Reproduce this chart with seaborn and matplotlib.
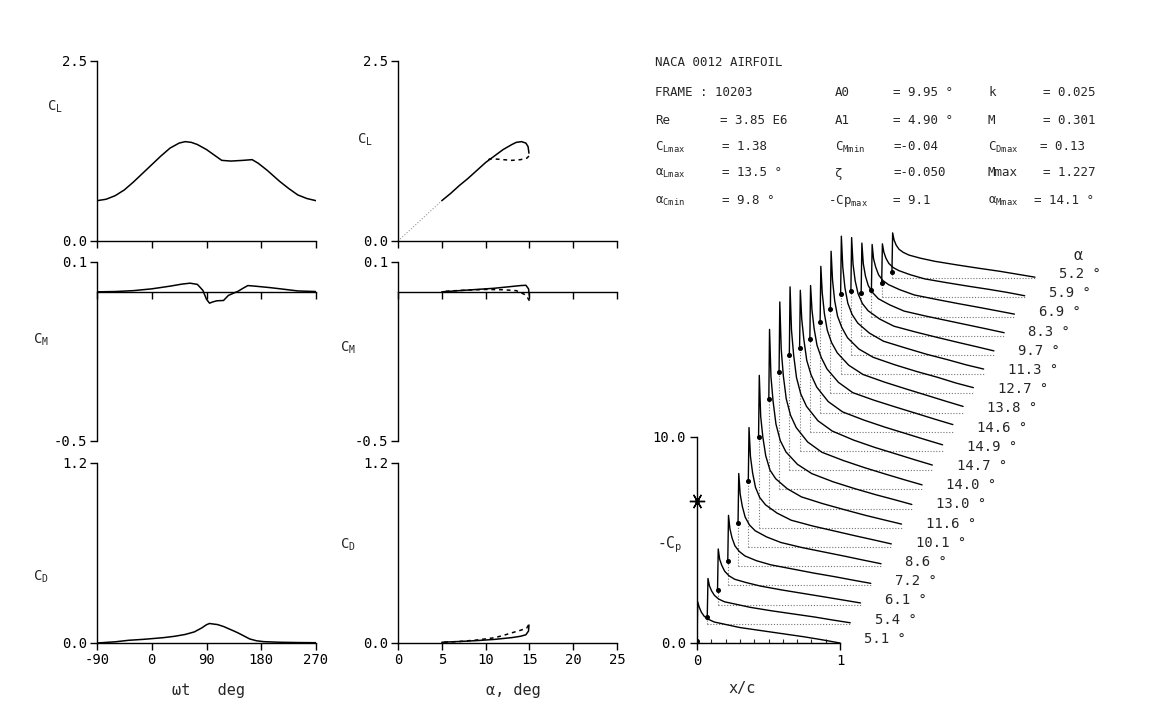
import numpy as np
import pandas as pd
import matplotlib
matplotlib.use("Agg")
import matplotlib.pyplot as plt
import seaborn as sns

sns.set_style("ticks")
plt.rcParams['font.family'] = ['DejaVu Sans Mono', 'DejaVu Sans']
plt.rcParams['axes.unicode_minus'] = False
plt.rcParams['mathtext.default'] = 'regular'

# ── data: loads vs phase (wt, deg) ────────────────────────────────────────────
wt_cl = [-90, -75, -60, -45, -30, -15, 0, 15, 30, 45, 55, 65, 75, 90, 105, 115,
         130, 150, 165, 175, 190, 210, 225, 240, 255, 270]
cl_wt = [0.56, 0.58, 0.63, 0.71, 0.82, 0.94, 1.06, 1.18, 1.29, 1.36, 1.38, 1.37,
         1.34, 1.27, 1.18, 1.12, 1.11, 1.12, 1.13, 1.08, 0.98, 0.83, 0.73, 0.64,
         0.59, 0.56]

wt_cm = [-90, -60, -30, 0, 30, 50, 63, 75, 84, 90, 95, 100, 107, 118, 126, 135,
         142, 150, 158, 170, 195, 220, 240, 270]
cm_wt = [0.0, 0.001, 0.004, 0.010, 0.019, 0.026, 0.029, 0.025, 0.005, -0.025,
         -0.038, -0.034, -0.030, -0.029, -0.012, -0.004, 0.002, 0.012, 0.021,
         0.019, 0.014, 0.008, 0.003, 0.001]

wt_cd = [-90, -60, -38, -15, 0, 20, 38, 55, 70, 82, 90, 95, 102, 108, 118, 127,
         135, 142, 152, 161, 172, 184, 210, 240, 270]
cd_wt = [0.0, 0.008, 0.018, 0.024, 0.029, 0.036, 0.045, 0.057, 0.074, 0.100,
         0.122, 0.130, 0.126, 0.123, 0.110, 0.094, 0.080, 0.067, 0.046, 0.027,
         0.015, 0.009, 0.005, 0.003, 0.002]

# ── data: loads vs alpha (upstroke solid, downstroke dashed) ─────────────────
a_ref  = [0.0, 5.0]
cl_ref = [0.0, 0.56]

a_cl_up   = [5.0, 6.0, 7.0, 8.0, 9.0, 10.0, 11.0, 12.0, 13.0, 13.5, 14.1, 14.6, 14.85, 14.95]
cl_up     = [0.56, 0.66, 0.77, 0.87, 0.98, 1.09, 1.18, 1.27, 1.34, 1.37, 1.38, 1.36, 1.31, 1.22]
a_cl_down = [14.95, 14.7, 14.0, 13.0, 12.0, 11.0, 10.5, 10.0]
cl_down   = [1.18, 1.15, 1.13, 1.12, 1.13, 1.14, 1.14, 1.11]

a_cm_up   = [5.0, 7.0, 9.0, 11.0, 13.0, 14.0, 14.6, 14.9, 15.0]
cm_up     = [0.0, 0.004, 0.008, 0.012, 0.018, 0.021, 0.022, 0.010, -0.015]
a_cm_down = [15.0, 14.8, 14.4, 13.5, 12.0, 10.0, 8.0, 6.0, 5.0]
cm_down   = [-0.030, -0.020, -0.008, 0.004, 0.007, 0.008, 0.006, 0.003, 0.001]

a_cd_up   = [5.0, 7.0, 9.0, 11.0, 13.0, 14.0, 14.6, 14.9, 14.95]
cd_up     = [0.005, 0.010, 0.016, 0.024, 0.036, 0.045, 0.055, 0.080, 0.120]
a_cd_down = [14.9, 14.7, 14.0, 13.0, 12.0, 11.0, 9.0, 7.0, 5.0]
cd_down   = [0.120, 0.100, 0.085, 0.068, 0.050, 0.035, 0.020, 0.010, 0.005]

# ── data: -Cp distributions (upper surface), one per instant ─────────────────
# first value is the leading-edge point (x/c = 0), second the suction peak
cp_x = [0.0, 0.005, 0.015, 0.03, 0.05, 0.08, 0.12, 0.2, 0.3, 0.45, 0.6, 0.75, 0.88, 1.0]
cp_alpha = [5.1, 5.4, 6.1, 7.2, 8.6, 10.1, 11.6, 13.0, 14.0, 14.7,
            14.9, 14.6, 13.8, 12.7, 11.3, 9.7, 8.3, 6.9, 5.9, 5.2]
cp_values = [
    [0.1, 2.0, 1.75, 1.5, 1.3, 1.15, 1.02, 0.9, 0.75, 0.6, 0.45, 0.3, 0.15, 0.0],
    [0.35, 2.2, 1.85, 1.6, 1.38, 1.2, 1.07, 0.95, 0.8, 0.63, 0.48, 0.33, 0.18, 0.05],
    [0.7, 2.7, 2.2, 1.9, 1.62, 1.4, 1.23, 1.07, 0.9, 0.71, 0.54, 0.37, 0.22, 0.08],
    [1.2, 3.4, 2.75, 2.3, 1.92, 1.65, 1.43, 1.2, 1.0, 0.8, 0.6, 0.42, 0.25, 0.1],
    [2.1, 4.5, 3.5, 2.9, 2.38, 2.0, 1.72, 1.42, 1.15, 0.9, 0.69, 0.48, 0.29, 0.12],
    [3.2, 5.8, 4.4, 3.6, 2.9, 2.4, 2.05, 1.65, 1.3, 1.02, 0.78, 0.54, 0.34, 0.15],
    [4.4, 7.4, 5.4, 4.4, 3.5, 2.8, 2.38, 1.9, 1.5, 1.17, 0.88, 0.6, 0.38, 0.18],
    [5.3, 8.7, 6.4, 5.2, 4.1, 3.3, 2.75, 2.15, 1.7, 1.3, 0.97, 0.67, 0.43, 0.2],
    [5.7, 9.1, 6.8, 5.5, 4.4, 3.6, 3.0, 2.3, 1.8, 1.4, 1.05, 0.73, 0.46, 0.22],
    [5.6, 8.9, 6.8, 5.6, 4.5, 3.7, 3.1, 2.4, 1.9, 1.46, 1.1, 0.78, 0.5, 0.25],
    [5.0, 7.8, 6.4, 5.4, 4.4, 3.7, 3.1, 2.4, 1.9, 1.5, 1.15, 0.83, 0.55, 0.3],
    [4.5, 7.1, 5.9, 5.0, 4.2, 3.6, 3.05, 2.4, 1.9, 1.53, 1.2, 0.88, 0.6, 0.35],
    [4.4, 7.1, 5.8, 4.8, 4.0, 3.4, 2.9, 2.3, 1.85, 1.48, 1.15, 0.83, 0.55, 0.3],
    [4.1, 6.9, 5.5, 4.5, 3.75, 3.2, 2.7, 2.15, 1.75, 1.39, 1.07, 0.78, 0.5, 0.28],
    [3.9, 6.7, 5.2, 4.2, 3.45, 2.9, 2.48, 2.0, 1.6, 1.28, 0.97, 0.7, 0.45, 0.25],
    [3.1, 5.7, 4.4, 3.6, 2.98, 2.5, 2.15, 1.75, 1.4, 1.12, 0.86, 0.61, 0.4, 0.2],
    [2.1, 4.5, 3.5, 2.9, 2.43, 2.1, 1.8, 1.5, 1.2, 0.96, 0.74, 0.52, 0.33, 0.15],
    [1.3, 3.5, 2.8, 2.4, 2.03, 1.75, 1.55, 1.3, 1.05, 0.84, 0.64, 0.45, 0.28, 0.12],
    [0.7, 2.6, 2.2, 1.9, 1.65, 1.45, 1.3, 1.1, 0.9, 0.72, 0.55, 0.39, 0.24, 0.08],
    [0.3, 2.2, 1.85, 1.6, 1.4, 1.25, 1.12, 0.97, 0.82, 0.65, 0.49, 0.34, 0.19, 0.05],
]
cp_star = 6.9

# ── header block ─────────────────────────────────────────────────────────────
header = [
    (655, 63, "NACA 0012 AIRFOIL"),
    (655, 92, "FRAME : 10203"), (835, 92, "A0"), (893, 92, "= 9.95 °"),
    (988, 92, "k"), (1043, 92, "= 0.025"),
    (655, 120, "Re"), (720, 120, "= 3.85 E6"), (835, 120, "A1"), (893, 120, "= 4.90 °"),
    (988, 120, "M"), (1043, 120, "= 0.301"),
    (655, 147, "C$_{Lmax}$"), (722, 147, "= 1.38"), (835, 147, "C$_{Mmin}$"),
    (893, 147, "=-0.04"), (988, 147, "C$_{Dmax}$"), (1040, 147, "= 0.13"),
    (655, 173, "α$_{Lmax}$"), (722, 173, "= 13.5 °"), (835, 173, "ζ"),
    (893, 173, "=-0.050"), (988, 173, "Mmax"), (1043, 173, "= 1.227"),
    (655, 201, "α$_{Cmin}$"), (722, 201, "= 9.8 °"), (828, 201, "-Cp$_{max}$"),
    (893, 201, "= 9.1"), (988, 201, "α$_{Mmax}$"), (1034, 201, "= 14.1 °"),
]

W, H = 1172, 728
fig = plt.figure(figsize=(W / 100, H / 100), dpi=100)


def px_axes(x0, y0, x1, y1):
    return fig.add_axes([x0 / W, 1 - y1 / H, (x1 - x0) / W, (y1 - y0) / H])


def ftext(x, y, s, **kw):
    kw.setdefault('fontsize', 10)
    kw.setdefault('va', 'center')
    fig.text(x / W, 1 - y / H, s, **kw)


def style_ax(ax, xlim, ylim, xticks, xlabels=None):
    ax.set_xlim(xlim)
    ax.set_ylim(ylim)
    ax.spines[['top', 'right']].set_visible(False)
    ax.spines['bottom'].set_position(('data', 0))
    for s in ['left', 'bottom']:
        ax.spines[s].set_color('k')
        ax.spines[s].set_linewidth(1.0)
    ax.set_yticks(list(ylim))
    ax.set_yticklabels([f'{v:.1f}' for v in ylim])
    ax.set_xticks(xticks)
    ax.set_xticklabels(xlabels if xlabels else [''] * len(xticks))
    ax.tick_params(direction='out', length=5, width=1.0, colors='k',
                   labelsize=10, pad=2)
    ax.set_xlabel('')
    ax.set_ylabel('')
    ax.patch.set_alpha(0)


line_kw = dict(color='k', lw=1.1, sort=False, estimator=None)
dash_kw = dict(color='k', lw=1.1, sort=False, estimator=None, linestyle=(0, (2.5, 2.5)))

# ── left column: vs wt ────────────────────────────────────────────────────────
wt_ticks = [-90, 0, 90, 180, 270]
ax = px_axes(97, 61, 316, 241)
sns.lineplot(x=wt_cl, y=cl_wt, ax=ax, **line_kw)
style_ax(ax, (-90, 270), (0.0, 2.5), wt_ticks)

ax = px_axes(97, 262, 316, 441)
sns.lineplot(x=wt_cm, y=cm_wt, ax=ax, **line_kw)
style_ax(ax, (-90, 270), (-0.5, 0.1), wt_ticks)

ax = px_axes(97, 463, 316, 643)
sns.lineplot(x=wt_cd, y=cd_wt, ax=ax, **line_kw)
style_ax(ax, (-90, 270), (0.0, 1.2), wt_ticks, [str(t) for t in wt_ticks])

# ── middle column: vs alpha ──────────────────────────────────────────────────
a_ticks = [0, 5, 10, 15, 20, 25]
ax = px_axes(398, 61, 617, 241)
sns.lineplot(x=a_ref, y=cl_ref, ax=ax, color='0.6', lw=0.8, linestyle=':',
             sort=False, estimator=None)
sns.lineplot(x=a_cl_up, y=cl_up, ax=ax, **line_kw)
sns.lineplot(x=a_cl_down, y=cl_down, ax=ax, **dash_kw)
style_ax(ax, (0, 25), (0.0, 2.5), a_ticks)

ax = px_axes(398, 262, 617, 441)
sns.lineplot(x=a_cm_up, y=cm_up, ax=ax, **line_kw)
sns.lineplot(x=a_cm_down, y=cm_down, ax=ax, **dash_kw)
style_ax(ax, (0, 25), (-0.5, 0.1), a_ticks)

ax = px_axes(398, 463, 617, 643)
sns.lineplot(x=a_cd_up, y=cd_up, ax=ax, **line_kw)
sns.lineplot(x=a_cd_down, y=cd_down, ax=ax, **dash_kw)
style_ax(ax, (0, 25), (0.0, 1.2), a_ticks, [str(t) for t in a_ticks])

# axis titles
ftext(47, 107, "C$_L$")
ftext(33, 340, "C$_M$")
ftext(33, 577, "C$_D$")
ftext(357, 140, "C$_L$")
ftext(340, 348, "C$_M$")
ftext(340, 545, "C$_D$")
ftext(208, 690, "ωt   deg", ha='center', fontsize=11)
ftext(513, 690, "α, deg", ha='center', fontsize=11)

# ── right: waterfall of -Cp ──────────────────────────────────────────────────
ux, uy = 143.0, 20.6           # px per x/c unit and per -Cp unit
dx, dy = 10.26 / ux, 19.2 / uy  # offset between successive instants
xmax, ymax = 2.6, 20.6
axp = px_axes(697, 643 - ymax * uy, 697 + xmax * ux, 643)
axp.set_xlim(0, xmax)
axp.set_ylim(0, ymax)

rows = []
for i, vals in enumerate(cp_values):
    for xv, yv in zip(cp_x, vals):
        rows.append({'x': xv + i * dx, 'y': yv + i * dy, 'curve': i})
    x0, y0 = i * dx, i * dy
    axp.plot([x0, x0 + 1.0], [y0, y0], ls=(0, (1, 1.6)), color='0.45', lw=0.8)
    axp.plot([x0, x0], [y0, y0 + vals[0]], ls=(0, (1, 1.6)), color='0.45', lw=0.8)
    axp.plot(x0, y0 + vals[0], 'o', color='k', ms=2.6)
    axp.text(x0 + 1.0 + 0.17, y0 + 0.2, f"{cp_alpha[i]:.1f} °", fontsize=10,
             va='center', ha='left')
cp_df = pd.DataFrame(rows)
sns.lineplot(data=cp_df, x='x', y='y', units='curve', estimator=None, sort=False,
             color='k', lw=1.0, ax=axp)

axp.text(1 + 19 * dx + 0.27, 19 * dy + 1.1, "α", fontsize=11, va='center', ha='left')
axp.plot(0, cp_star, marker=(6, 2, 90), color='k', ms=11, mew=1.0, clip_on=False)
axp.plot(0, cp_star, 'o', color='k', ms=2.5, clip_on=False)

axp.spines[['top', 'right']].set_visible(False)
axp.spines['left'].set_bounds(0, 10)
axp.spines['bottom'].set_bounds(0, 1)
for s in ['left', 'bottom']:
    axp.spines[s].set_color('k')
    axp.spines[s].set_linewidth(1.0)
axp.set_yticks([0, 10])
axp.set_yticklabels(['0.0', '10.0'])
axp.set_xticks([0, 1])
axp.set_xticklabels(['0', '1'])
axp.set_xticks([k / 10 for k in range(1, 10)], minor=True)
axp.tick_params(direction='out', length=5, width=1.0, colors='k', labelsize=10, pad=3)
axp.tick_params(axis='x', which='minor', direction='in', length=3, width=0.8)
axp.set_xlabel('')
axp.set_ylabel('')
axp.patch.set_alpha(0)

ftext(657, 545, "-C$_p$", fontsize=10.5)
ftext(742, 688, "x/c", ha='center', fontsize=11)

for x, y, s in header:
    ftext(x, y, s, fontsize=9)

fig.savefig("out.png", dpi=100, facecolor='white')
